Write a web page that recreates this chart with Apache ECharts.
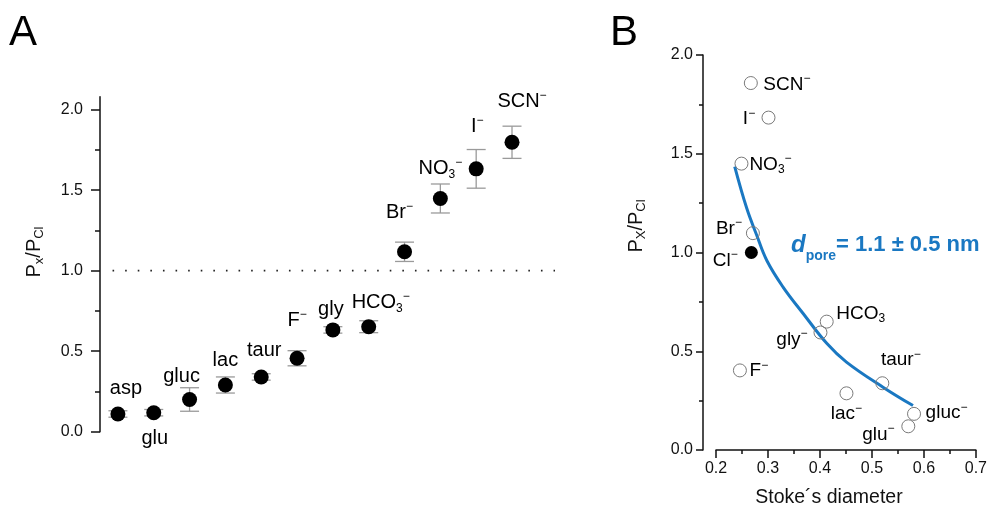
<!DOCTYPE html>
<html>
<head>
<meta charset="utf-8">
<script src="https://cdn.jsdelivr.net/npm/echarts@6/dist/echarts.min.js"></script>
<style>
html,body{margin:0;padding:0;background:#fff;}
#c{width:990px;height:513px;}
</style>
</head>
<body>
<div id="c"></div>
<script>
// ---------- Panel A data ----------
const catsA = ['asp','glu','gluc','lac','taur','F','gly','HCO3','Br','NO3','I','SCN'];
const valuesA = [0.11, 0.118, 0.2, 0.29, 0.34, 0.456, 0.632, 0.652, 1.117, 1.448, 1.632, 1.797];
const errA = [0.02, 0.02, 0.073, 0.05, 0.02, 0.047, 0.02, 0.037, 0.06, 0.09, 0.12, 0.1];
const labelTextA = ['{m|asp}','{m|glu}','{m|gluc}','{m|lac}','{m|taur}','{m|F}{sup|−}','{m|gly}',
  '{m|HCO}{sub|3}{sup|−}','{m|Br}{sup|−}','{m|NO}{sub|3}{sup|−}','{m|I}{sup|−}','{m|SCN}{sup|−}'];
const yTicksA = [0, 0.5, 1.0, 1.5, 2.0];
const yMinorTicksA = [0.25, 0.75, 1.25, 1.75];
const refLineX = [0.85, 13.2];
const refLineY = 1.0;

// ---------- Panel B data ----------
const namesB = ['SCN','I','NO3','Br','HCO3','gly','F','lac','taur','gluc','glu'];
const xB = [0.267, 0.301, 0.249, 0.271, 0.413, 0.401, 0.246, 0.451, 0.52, 0.581, 0.57];
const yB = [1.858, 1.683, 1.45, 1.098, 0.65, 0.595, 0.403, 0.287, 0.338, 0.183, 0.12];
const labelTextB = ['{m|SCN}{sup|−}','{m|I}{sup|−}','{m|NO}{sub|3}{sup|−}','{m|Br}{sup|−}','{m|HCO}{sub|3}',
  '{m|gly}{sup|−}','{m|F}{sup|−}','{m|lac}{sup|−}','{m|taur}{sup|−}','{m|gluc}{sup|−}','{m|glu}{sup|−}'];
const clX = [0.268];
const clY = [1.0];
const fitX = [0.236, 0.259, 0.278, 0.298, 0.329, 0.368, 0.413, 0.451, 0.522, 0.579];
const fitY = [1.435, 1.225, 1.09, 0.958, 0.825, 0.69, 0.54, 0.445, 0.317, 0.225];

// label offsets (layout only)
const labelOffsetA = [[8,-25],[1,26],[-8,-23],[0,-25],[3,-26],[0,-38],[-2,-20],[12,-24],[-5,-39],[0,-30],[1,-42],[10,-41]];
const labelOffsetB = [[36,1.5],[-19.5,1.5],[29,1],[-24,-4.5],[34,-8],[-28.5,7],[19,0.5],[0,20.5],[18.5,-23.5],[32.5,-1],[-30,8]];

const FONT = 'Liberation Sans, Arial, Helvetica, sans-serif';
const BLUE = '#1a78c2';

function rich(size) {
  return {
    m: {fontSize: size, lineHeight: size + 4, fontFamily: FONT, color: '#000', verticalAlign: 'middle'},
    sup: {fontSize: Math.round(size * 0.62), lineHeight: Math.round(size * 0.62), fontFamily: FONT, color: '#000', verticalAlign: 'top'},
    sub: {fontSize: Math.round(size * 0.62), lineHeight: Math.round(size * 0.62), fontFamily: FONT, color: '#000', verticalAlign: 'bottom'}
  };
}

const chart = echarts.init(document.getElementById('c'), null, {renderer: 'canvas'});

const axisCommon = {
  axisLine: {show: true, lineStyle: {color: '#111', width: 1.5}},
  splitLine: {show: false}
};

const option = {
  animation: false,
  backgroundColor: '#fff',
  grid: [
    {left: 100, top: 96.7, width: 455, height: 335},
    {left: 716, top: 55, width: 260, height: 400}
  ],
  xAxis: [
    {gridIndex: 0, type: 'value', min: 0.5, max: 13.2, show: false},
    {gridIndex: 1, type: 'value', min: 0.2, max: 0.7, interval: 0.1,
      axisLine: {show: true, onZero: false, lineStyle: {color: '#111', width: 1.5}},
      axisTick: {show: true, inside: false, length: 8, lineStyle: {color: '#111', width: 1.5}},
      minorTick: {show: true, splitNumber: 2, length: 4, lineStyle: {color: '#111', width: 1.5}},
      axisLabel: {margin: 11, fontSize: 16, color: '#111', fontFamily: FONT, formatter: v => v.toFixed(1)},
      splitLine: {show: false},
      name: 'Stoke´s diameter', nameLocation: 'middle', nameGap: 38,
      nameTextStyle: {fontSize: 19.5, color: '#111', fontFamily: FONT, padding: [0, 34, 0, 0]}
    }
  ],
  yAxis: [
    Object.assign({gridIndex: 0, type: 'value', min: 0, max: 2.08, position: 'left',
      axisTick: {show: true, length: 9, customValues: yTicksA, lineStyle: {color: '#111', width: 1.5}},
      axisLabel: {show: true, margin: 17, fontSize: 16, color: '#111', fontFamily: FONT, customValues: yTicksA,
        formatter: v => v.toFixed(1)}
    }, axisCommon),
    {gridIndex: 0, type: 'value', min: 0, max: 2.08, position: 'left',
      axisLine: {show: false},
      axisTick: {show: true, length: 5, customValues: yMinorTicksA, lineStyle: {color: '#111', width: 1.5}},
      axisLabel: {show: false}, splitLine: {show: false}
    },
    Object.assign({gridIndex: 1, type: 'value', min: 0, max: 2, interval: 0.5, position: 'left', offset: 13,
      axisTick: {show: true, length: 7, lineStyle: {color: '#111', width: 1.5}},
      minorTick: {show: true, splitNumber: 2, length: 4, lineStyle: {color: '#111', width: 1.5}},
      axisLabel: {margin: 10, fontSize: 16, color: '#111', fontFamily: FONT, formatter: v => v.toFixed(1)}
    }, axisCommon)
  ],
  graphic: [
    {type: 'text', left: 9, top: 12, style: {text: 'A', fontSize: 42, fontFamily: FONT, fill: '#000'}},
    {type: 'text', left: 610, top: 12, style: {text: 'B', fontSize: 42, fontFamily: FONT, fill: '#000'}},
    {type: 'text', x: 34, y: 252, rotation: Math.PI / 2,
      style: {text: '{m|P}{sub|x}{m|/P}{sub|Cl}', align: 'center', verticalAlign: 'middle', rich: {
        m: {fontSize: 20, lineHeight: 24, fontFamily: FONT, fill: '#111', verticalAlign: 'middle'},
        sub: {fontSize: 13, lineHeight: 13, fontFamily: FONT, fill: '#111', verticalAlign: 'bottom'}
      }}},
    {type: 'text', x: 636, y: 226, rotation: Math.PI / 2,
      style: {text: '{m|P}{sub|X}{m|/P}{sub|Cl}', align: 'center', verticalAlign: 'middle', rich: {
        m: {fontSize: 20, lineHeight: 24, fontFamily: FONT, fill: '#111', verticalAlign: 'middle'},
        sub: {fontSize: 13, lineHeight: 13, fontFamily: FONT, fill: '#111', verticalAlign: 'bottom'}
      }}},
    {type: 'text', x: 791, y: 245,
      style: {text: '{d|d}{s|pore}{t|= 1.1 ± 0.5 nm}', align: 'left', verticalAlign: 'middle', rich: {
        d: {fontSize: 24, lineHeight: 36, fontWeight: 'bold', fontStyle: 'italic', fontFamily: FONT, fill: BLUE, verticalAlign: 'middle'},
        s: {fontSize: 14, lineHeight: 14, fontWeight: 'bold', fontFamily: FONT, fill: BLUE, verticalAlign: 'bottom'},
        t: {fontSize: 22, lineHeight: 36, fontWeight: 'bold', fontFamily: FONT, fill: BLUE, verticalAlign: 'middle'}
      }}}
  ],
  series: [
    // error bars panel A
    {
      type: 'custom', xAxisIndex: 0, yAxisIndex: 0, z: 2,
      data: valuesA.map((v, i) => [i + 1, v, errA[i]]),
      renderItem: function (params, api) {
        const x = api.value(0), y = api.value(1), e = api.value(2);
        const t = api.coord([x, y + e]);
        const b = api.coord([x, y - e]);
        const hw = 9.5;
        const st = {stroke: '#9a9a9a', lineWidth: 1.3};
        return {type: 'group', children: [
          {type: 'line', shape: {x1: t[0], y1: t[1], x2: b[0], y2: b[1]}, style: st},
          {type: 'line', shape: {x1: t[0] - hw, y1: t[1], x2: t[0] + hw, y2: t[1]}, style: st},
          {type: 'line', shape: {x1: b[0] - hw, y1: b[1], x2: b[0] + hw, y2: b[1]}, style: st}
        ]};
      }
    },
    // dotted reference line
    {
      type: 'line', xAxisIndex: 0, yAxisIndex: 0, z: 1, showSymbol: false, symbol: 'none',
      data: refLineX.map(x => [x, refLineY]),
      lineStyle: {color: '#222', width: 1.6, type: [1.6, 11]}
    },
    // points panel A
    {
      type: 'scatter', xAxisIndex: 0, yAxisIndex: 0, z: 3,
      symbol: 'circle', symbolSize: 15,
      itemStyle: {color: '#000', opacity: 1},
      data: catsA.map((c, i) => ({name: c, value: [i + 1, valuesA[i]],
        label: {offset: labelOffsetA[i]}})),
      label: {show: true, position: 'inside', color: '#000',
        formatter: p => labelTextA[p.dataIndex], rich: rich(20)}
    },
    // fit curve panel B
    {
      type: 'line', xAxisIndex: 1, yAxisIndex: 2, z: 2, smooth: 0.4, showSymbol: false, symbol: 'none',
      data: fitX.map((x, i) => [x, fitY[i]]),
      lineStyle: {color: BLUE, width: 3}
    },
    // open circles panel B
    {
      type: 'scatter', xAxisIndex: 1, yAxisIndex: 2, z: 3,
      symbol: 'circle', symbolSize: 13,
      itemStyle: {color: 'rgba(255,255,255,0)', borderColor: '#7a7a7a', borderWidth: 1, opacity: 1},
      data: namesB.map((n, i) => ({name: n, value: [xB[i], yB[i]], label: {offset: labelOffsetB[i]}})),
      label: {show: true, position: 'inside', color: '#000',
        formatter: p => labelTextB[p.dataIndex], rich: rich(19)}
    },
    // Cl- filled
    {
      type: 'scatter', xAxisIndex: 1, yAxisIndex: 2, z: 3,
      symbol: 'circle', symbolSize: 13,
      itemStyle: {color: '#000', opacity: 1},
      data: clX.map((x, i) => [x, clY[i]]),
      label: {show: true, position: 'inside', offset: [-26, 8], color: '#000',
        formatter: () => '{m|Cl}{sup|−}', rich: rich(19)}
    }
  ]
};
chart.setOption(option);
</script>
</body>
</html>
